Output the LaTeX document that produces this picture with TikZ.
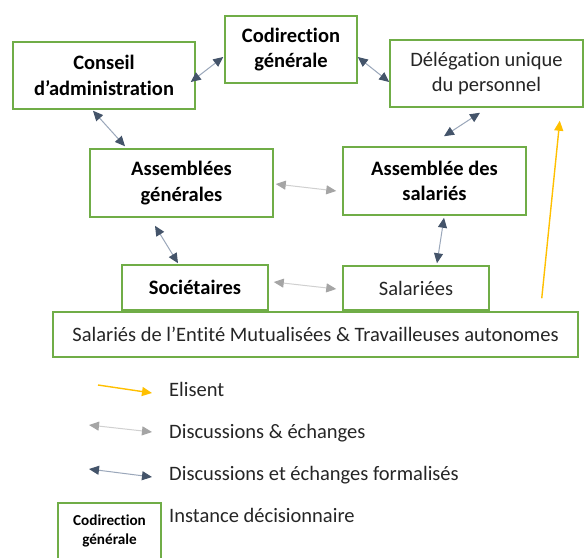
\documentclass[tikz,border=0pt]{standalone}
\usepackage{fontspec}
\setmainfont{Carlito}[Ligatures=CommonOff]
\usetikzlibrary{arrows.meta,calc}
\definecolor{boxgreen}{HTML}{70AD47}
\definecolor{txtgrey}{HTML}{262626}
\definecolor{shaftblue}{HTML}{9AA7BA}
\definecolor{headblue}{HTML}{44546A}
\definecolor{shaftgrey}{HTML}{D0D0D0}
\definecolor{headgrey}{HTML}{A5A5A5}
\definecolor{elisyellow}{HTML}{FFC000}
\tikzset{
  box/.style={draw=boxgreen, line width=1.5pt, fill=white, inner sep=0pt, align=center},
  bbox/.style={box, text=black, font=\bfseries\fontsize{20.5}{25.5}\selectfont},
  rbox/.style={box, text=txtgrey, font=\fontsize{20.5}{25.5}\selectfont},
  legtext/.style={anchor=base west, inner sep=0pt, text=txtgrey, font=\fontsize{20.5}{25.5}\selectfont},
  formal/.style={draw=shaftblue, line width=1pt,
    {Triangle[length=10pt,width=9pt,color=headblue]}-{Triangle[length=10pt,width=9pt,color=headblue]}},
  informal/.style={draw=shaftgrey, line width=1pt,
    {Triangle[length=10pt,width=9pt,color=headgrey]}-{Triangle[length=10pt,width=9pt,color=headgrey]}},
  elect/.style={draw=elisyellow, line width=1.4pt, -{Triangle[length=10pt,width=9pt]}}
}
\begin{document}
\begin{tikzpicture}[x=1pt,y=-1pt]
\useasboundingbox[fill=white] (0,0) rectangle (585,557);

% boxes
\node[bbox, minimum width=182pt, minimum height=67pt] (conseil) at (104,75.5) {Conseil\\d’administration};
\node[bbox, minimum width=132pt, minimum height=67pt] (codir) at (291,49.5) {Codirection\\générale};
\node[rbox, minimum width=193pt, minimum height=67pt] (dup) at (486.5,73.5) {Délégation unique\\du personnel};
\node[bbox, minimum width=183pt, minimum height=68pt] (ag) at (181.5,183) {Assemblées\\générales};
\node[bbox, minimum width=183pt, minimum height=68pt] (as) at (434.5,181) {Assemblée des\\salariés};
\node[rbox, minimum width=525pt, minimum height=45pt] (base) at (315.5,334.5) {Salariés de l’Entité Mutualisées \& Travailleuses autonomes};
\node[bbox, minimum width=146pt, minimum height=45pt] (soc) at (195,287.5) {Sociétaires};
\node[rbox, minimum width=146pt, minimum height=44pt] (sal) at (416,288) {Salariées};

% connectors
\draw[formal] ($(conseil.east)+(-5,6.5)$) -- ($(codir.west)+(-1,7.5)$);
\draw[formal] ($(codir.east)+(0,7.5)$) -- ($(dup.west)+(0,8.5)$);
\draw[formal] ($(conseil.south)+(-11,1)$) -- ($(ag.north)+(-56.5,-2)$);
\draw[formal] ($(dup.south)+(-6.5,5)$) -- ($(as.north)+(9.5,-10)$);
\draw[informal] ($(ag.east)+(2,1)$) -- ($(as.west)+(-6,10)$);
\draw[formal] ($(ag.south)+(-26.5,8)$) -- ($(soc.north)+(-17,-1)$);
\draw[formal] ($(as.south)+(9.5,2)$) -- ($(sal.north)+(21,-2)$);
\draw[informal] ($(soc.east)+(5,-5.5)$) -- ($(sal.west)+(-6,1)$);
\draw[elect] ($(base.north east)+(-37,-13)$) -- ($(dup.south east)+(-24,13)$);

% legend
\coordinate (ly1) at (98,385);
\coordinate (ly2) at (152,393);
\coordinate (lg1) at (89,425);
\coordinate (lg2) at (152,432);
\coordinate (lb1) at (89,469);
\coordinate (lb2) at (152,477);
\draw[elect] (ly1) -- (ly2);
\draw[informal] (lg1) -- (lg2);
\draw[formal] (lb1) -- (lb2);
\node[legtext] (t1) at (169,396) {Elisent};
\node[legtext] (t2) at (169,438) {Discussions \& échanges};
\node[legtext] (t3) at (169,480) {Discussions et échanges formalisés};
\node[legtext] (t4) at (169,522) {Instance décisionnaire};
\node[draw=boxgreen, line width=1.5pt, minimum width=103pt, minimum height=64pt, inner sep=0pt] (legbox) at (109.5,535) {};
\node[align=center, inner sep=0pt, text=black, font=\bfseries\fontsize{15.2}{19.5}\selectfont] (legboxtext) at (109.5,531) {Codirection\\générale};
\end{tikzpicture}
\end{document}
